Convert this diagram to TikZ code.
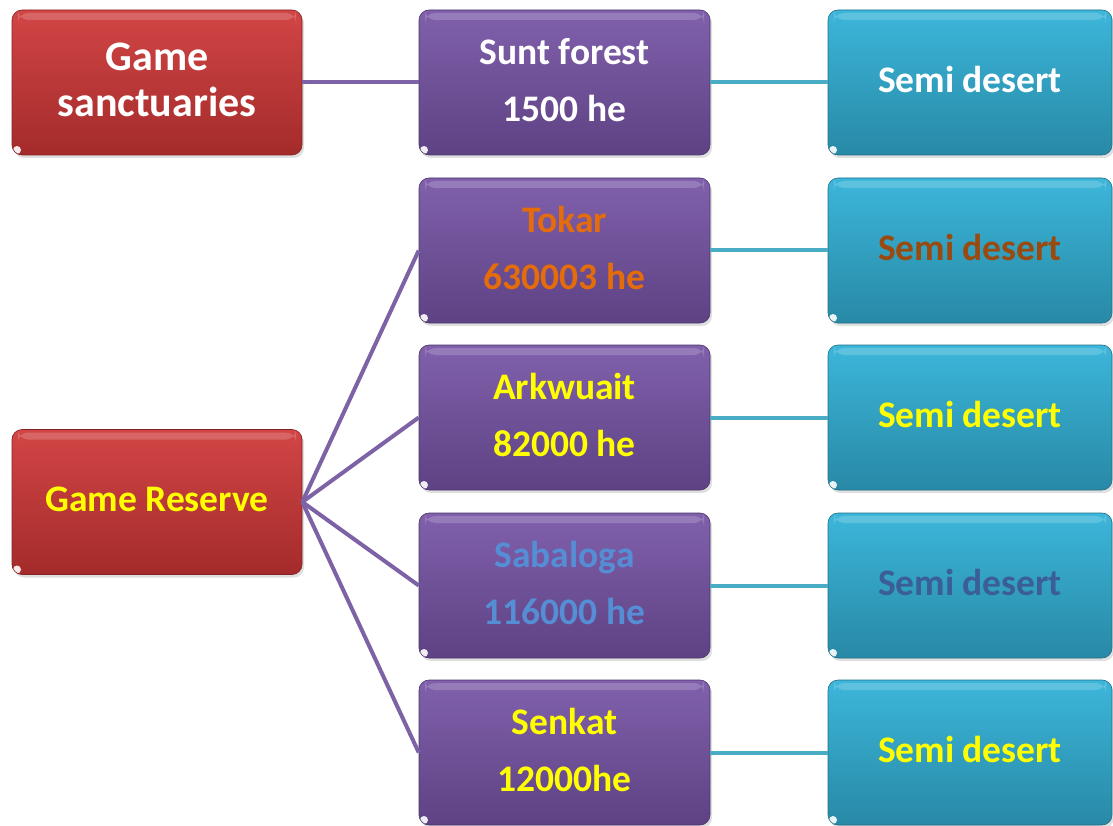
\documentclass[tikz,border=0pt]{standalone}
\usepackage{fontspec}
\setmainfont{Carlito}
\usetikzlibrary{shadows}
\definecolor{redT}{HTML}{D24545}
\definecolor{redB}{HTML}{A42B2B}
\definecolor{purT}{HTML}{8060AC}
\definecolor{purB}{HTML}{5E4283}
\definecolor{cyaT}{HTML}{3CB6DA}
\definecolor{cyaB}{HTML}{2889A6}
\definecolor{purLine}{HTML}{7E62A6}
\definecolor{cyaLine}{HTML}{4AABC4}
\definecolor{tokarC}{HTML}{E46C0A}
\definecolor{brownC}{HTML}{9A4A0E}
\definecolor{yelC}{HTML}{FFFF00}
\definecolor{sabC}{HTML}{558ED5}
\definecolor{dblueC}{HTML}{3A5E95}
\tikzset{
  box/.style={rectangle, rounded corners=10pt, minimum height=145pt, inner sep=0pt,
    align=center, font=\bfseries\fontsize{37.5}{46}\selectfont, text depth=6pt,
    drop shadow={opacity=0.25, shadow xshift=2pt, shadow yshift=-3pt},
    path picture={
      \fill[white,opacity=0.18] ([xshift=6pt,yshift=-3pt]path picture bounding box.north west) rectangle ([xshift=-6pt,yshift=-10pt]path picture bounding box.north east);
      \fill[white,opacity=0.9] ([xshift=5pt,yshift=5pt]path picture bounding box.south west) circle[radius=4pt];
    }},
  redbox/.style={box, minimum width=290pt, top color=redT, bottom color=redB, draw=redB!80!black, line width=0.6pt},
  purbox/.style={box, minimum width=291pt, top color=purT, bottom color=purB, draw=purB!80!black, line width=0.6pt, font=\bfseries\fontsize{37.5}{57}\selectfont},
  cyabox/.style={box, minimum width=284pt, top color=cyaT, bottom color=cyaB, draw=cyaB!80!black, line width=0.6pt},
  purlink/.style={purLine, line width=4pt},
  cyalink/.style={cyaLine, line width=4pt}
}
\begin{document}
\begin{tikzpicture}[x=1pt,y=-1pt]
\useasboundingbox (0,0) rectangle (1113,826);
\node[redbox, text=white, font=\bfseries\fontsize{42}{46}\selectfont] (r1) at (157,82.5) {Game\\sanctuaries};
\node[redbox, text=yelC] (r2) at (157,502) {Game Reserve};
\node[purbox, text=white] (p1) at (564.5,82.5) {Sunt forest\\1500 he};
\node[purbox, text=tokarC] (p2) at (564.5,250.5) {Tokar\\630003 he};
\node[purbox, text=yelC] (p3) at (564.5,417.5) {Arkwuait\\82000 he};
\node[purbox, text=sabC] (p4) at (564.5,585.5) {Sabaloga\\116000 he};
\node[purbox, text=yelC] (p5) at (564.5,752.5) {Senkat\\12000he};
\node[cyabox, text=white] (c1) at (970,82.5) {Semi desert};
\node[cyabox, text=brownC] (c2) at (970,250.5) {Semi desert};
\node[cyabox, text=yelC] (c3) at (970,417.5) {Semi desert};
\node[cyabox, text=dblueC] (c4) at (970,585.5) {Semi desert};
\node[cyabox, text=yelC] (c5) at (970,752.5) {Semi desert};
\draw[purlink] (r1.east) -- (p1.west);
\foreach \p in {p2,p3,p4,p5} \draw[purlink] (r2.east) -- (\p.west);
\foreach \i in {1,...,5} \draw[cyalink] (p\i.east) -- (c\i.west);
\end{tikzpicture}
\end{document}
